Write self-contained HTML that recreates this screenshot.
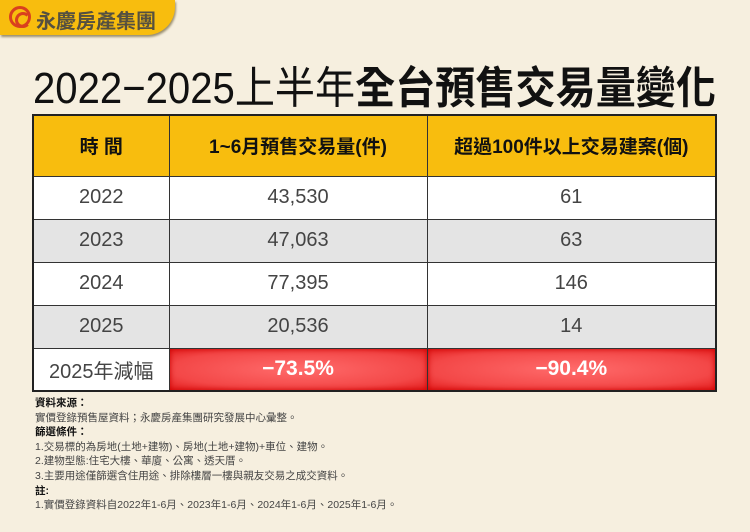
<!DOCTYPE html>
<html><head><meta charset="utf-8"><style>
*{margin:0;padding:0;box-sizing:border-box}
body{width:750px;height:532px;background:#f6efdf;position:relative;overflow:hidden;font-family:"Liberation Sans","Noto Sans CJK TC",sans-serif}
.tab{position:absolute;left:0;top:0;width:175px;height:35px;background:#f8bd0e;border-bottom-right-radius:28px;box-shadow:1px 2px 2px #9a8f70}
.tab span{position:absolute;left:36px;top:5px;font-size:20px;font-weight:bold;color:#555040;letter-spacing:0px}
.logo{position:absolute;left:9px;top:6px;width:22px;height:22px;border:3px solid #d9401e;border-radius:50%}
.logo:after{content:"";position:absolute;left:3px;top:3px;width:10px;height:10px;border:3px solid #d9401e;border-radius:50%;border-right-color:transparent}
table{position:absolute;left:32px;top:114px;width:685px;border-collapse:collapse;border:2px solid #222}
td{border:1.5px solid #333;text-align:center;color:#444;font-size:20px}
tr.h td{background:#f8bd0e;color:#111;font-weight:bold;height:61px;font-size:19px}
tr.w td{background:#fff;height:43px}
tr.g td{background:#e4e4e4;height:43px}
tr.t td{height:43px}
td.red{background:radial-gradient(ellipse at center,#ff6b6b 0%,#f34747 70%,#e42020 100%);color:#fff;font-weight:bold;font-size:21px;box-shadow:inset 0 0 6px #c00}
.notes{position:absolute;left:35px;top:396px;font-size:10.5px;color:#444;line-height:14.6px}
.notes b{color:#111}
</style></head><body>
<div class="tab"><div class="logo"></div><span>永慶房產集團</span></div>
<svg style="position:absolute;left:0;top:0" width="750" height="115">
<text x="33" y="103" font-size="44" textLength="683" lengthAdjust="spacingAndGlyphs" font-family="Liberation Sans Narrow, Liberation Sans, Noto Sans CJK TC, sans-serif" fill="#111">2022−2025上半年<tspan font-weight="bold">全台預售交易量變化</tspan></text>
</svg>
<table>
<colgroup><col style="width:136px"><col style="width:258px"><col></colgroup>
<tr class="h"><td>時 間</td><td>1~6月預售交易量(件)</td><td>超過100件以上交易建案(個)</td></tr>
<tr class="w"><td>2022</td><td>43,530</td><td>61</td></tr>
<tr class="g"><td>2023</td><td>47,063</td><td>63</td></tr>
<tr class="w"><td>2024</td><td>77,395</td><td>146</td></tr>
<tr class="g"><td>2025</td><td>20,536</td><td>14</td></tr>
<tr class="t"><td style="background:#fff">2025年減幅</td><td class="red">−73.5%</td><td class="red">−90.4%</td></tr>
</table>
<div class="notes">
<b>資料來源：</b><br>
實價登錄預售屋資料；永慶房產集團研究發展中心彙整。<br>
<b>篩選條件：</b><br>
1.交易標的為房地(土地+建物)、房地(土地+建物)+車位、建物。<br>
2.建物型態:住宅大樓、華廈、公寓、透天厝。<br>
3.主要用途僅篩選含住用途、排除樓層一樓與親友交易之成交資料。<br>
<b>註:</b><br>
1.實價登錄資料自2022年1-6月、2023年1-6月、2024年1-6月、2025年1-6月。
</div>
</body></html>
